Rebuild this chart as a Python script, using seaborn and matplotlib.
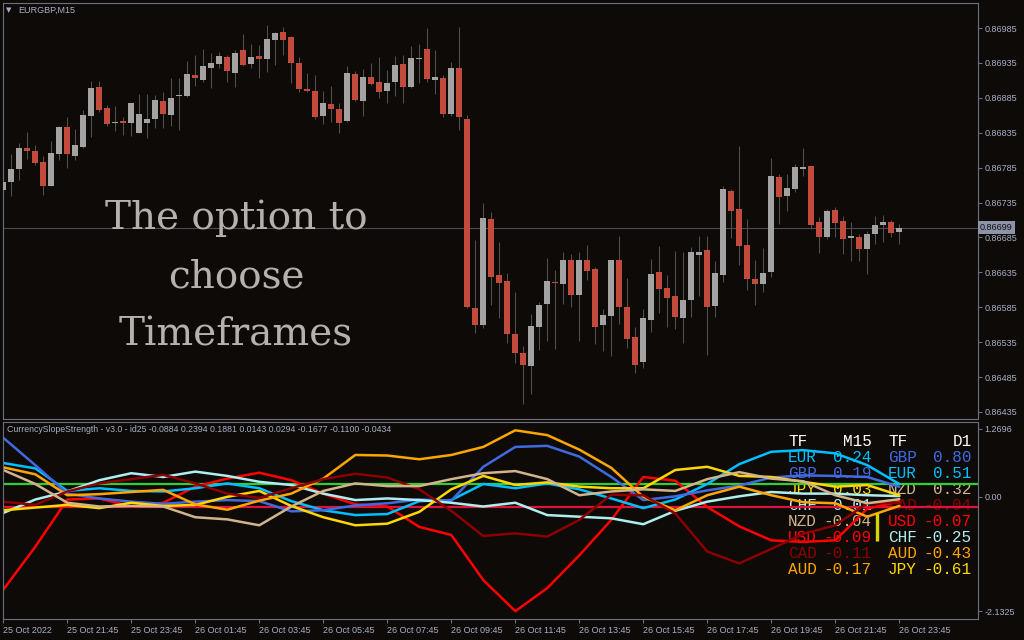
import numpy as np
import pandas as pd
import matplotlib.pyplot as plt
import seaborn as sns
from matplotlib import transforms

# ---- price data (EURGBP M15), one value per bar ----
opens = [0.86753, 0.86764, 0.86783, 0.86813, 0.86809, 0.86793, 0.86758, 0.86805, 0.86843, 0.86802,
         0.86815, 0.86859, 0.86900, 0.86870, 0.86849, 0.86852, 0.86849, 0.86835, 0.86849, 0.86855,
         0.86880, 0.86861, 0.86887, 0.86887, 0.86918, 0.86911, 0.86928, 0.86934, 0.86944, 0.86921,
         0.86954, 0.86934, 0.86945, 0.86941, 0.86968, 0.86979, 0.86972, 0.86935, 0.86898, 0.86895,
         0.86859, 0.86876, 0.86869, 0.86852, 0.86919, 0.86881, 0.86915, 0.86908, 0.86895, 0.86907,
         0.86934, 0.86901, 0.86941, 0.86955, 0.86911, 0.86913, 0.86862, 0.86928, 0.86855, 0.86584,
         0.86559, 0.86712, 0.86631, 0.86623, 0.86547, 0.86519, 0.86501, 0.86557, 0.86589, 0.86621,
         0.86619, 0.86653, 0.86602, 0.86652, 0.86640, 0.86559, 0.86572, 0.86653, 0.86586, 0.86542,
         0.86506, 0.86567, 0.86636, 0.86613, 0.86601, 0.86570, 0.86596, 0.86660, 0.86667, 0.86587,
         0.86631, 0.86752, 0.86726, 0.86674, 0.86626, 0.86618, 0.86636, 0.86772, 0.86744, 0.86755,
         0.86783, 0.86787, 0.86707, 0.86686, 0.86724, 0.86709, 0.86684, 0.86686, 0.86668, 0.86690,
         0.86703, 0.86707, 0.86693]
highs = [0.86775, 0.86805, 0.86820, 0.86836, 0.86818, 0.86801, 0.86823, 0.86845, 0.86858, 0.86840,
         0.86868, 0.86909, 0.86909, 0.86875, 0.86873, 0.86858, 0.86878, 0.86891, 0.86891, 0.86889,
         0.86894, 0.86914, 0.86913, 0.86938, 0.86946, 0.86955, 0.86949, 0.86950, 0.86946, 0.86954,
         0.86976, 0.86962, 0.86961, 0.86989, 0.86979, 0.86987, 0.86974, 0.86944, 0.86921, 0.86918,
         0.86895, 0.86902, 0.86877, 0.86931, 0.86923, 0.86926, 0.86935, 0.86943, 0.86925, 0.86945,
         0.86946, 0.86959, 0.86962, 0.86985, 0.86954, 0.86917, 0.86937, 0.86987, 0.86860, 0.86681,
         0.86734, 0.86721, 0.86678, 0.86634, 0.86607, 0.86529, 0.86576, 0.86593, 0.86655, 0.86638,
         0.86664, 0.86661, 0.86664, 0.86674, 0.86642, 0.86583, 0.86653, 0.86687, 0.86627, 0.86557,
         0.86583, 0.86654, 0.86673, 0.86631, 0.86666, 0.86664, 0.86671, 0.86687, 0.86687, 0.86651,
         0.86759, 0.86755, 0.86816, 0.86712, 0.86653, 0.86670, 0.86799, 0.86776, 0.86776, 0.86790,
         0.86813, 0.86787, 0.86714, 0.86726, 0.86729, 0.86716, 0.86707, 0.86690, 0.86694, 0.86716,
         0.86717, 0.86710, 0.86704]
lows = [0.86744, 0.86744, 0.86767, 0.86798, 0.86789, 0.86746, 0.86758, 0.86796, 0.86785, 0.86796,
        0.86813, 0.86829, 0.86865, 0.86845, 0.86837, 0.86832, 0.86831, 0.86834, 0.86827, 0.86842,
        0.86842, 0.86844, 0.86839, 0.86886, 0.86902, 0.86907, 0.86899, 0.86927, 0.86908, 0.86900,
        0.86931, 0.86927, 0.86914, 0.86922, 0.86932, 0.86947, 0.86906, 0.86894, 0.86894, 0.86855,
        0.86847, 0.86851, 0.86835, 0.86850, 0.86880, 0.86859, 0.86903, 0.86885, 0.86877, 0.86888,
        0.86877, 0.86899, 0.86906, 0.86907, 0.86891, 0.86857, 0.86859, 0.86839, 0.86584, 0.86548,
        0.86556, 0.86588, 0.86569, 0.86534, 0.86505, 0.86447, 0.86461, 0.86524, 0.86537, 0.86525,
        0.86589, 0.86586, 0.86537, 0.86624, 0.86532, 0.86522, 0.86515, 0.86561, 0.86526, 0.86491,
        0.86498, 0.86550, 0.86577, 0.86557, 0.86554, 0.86534, 0.86571, 0.86601, 0.86517, 0.86571,
        0.86621, 0.86684, 0.86646, 0.86610, 0.86588, 0.86607, 0.86628, 0.86704, 0.86723, 0.86750,
        0.86773, 0.86697, 0.86663, 0.86683, 0.86686, 0.86661, 0.86651, 0.86651, 0.86633, 0.86676,
        0.86678, 0.86686, 0.86676]
closes = [0.86764, 0.86783, 0.86813, 0.86809, 0.86792, 0.86759, 0.86806, 0.86843, 0.86805, 0.86817,
          0.86860, 0.86899, 0.86868, 0.86848, 0.86850, 0.86849, 0.86878, 0.86862, 0.86855, 0.86882,
          0.86862, 0.86885, 0.86888, 0.86919, 0.86914, 0.86931, 0.86935, 0.86945, 0.86923, 0.86949,
          0.86932, 0.86944, 0.86941, 0.86969, 0.86978, 0.86968, 0.86935, 0.86897, 0.86895, 0.86857,
          0.86878, 0.86869, 0.86849, 0.86921, 0.86882, 0.86915, 0.86905, 0.86894, 0.86906, 0.86932,
          0.86900, 0.86942, 0.86942, 0.86912, 0.86915, 0.86862, 0.86928, 0.86857, 0.86585, 0.86560,
          0.86713, 0.86629, 0.86620, 0.86547, 0.86520, 0.86503, 0.86558, 0.86588, 0.86623, 0.86620,
          0.86652, 0.86603, 0.86653, 0.86637, 0.86557, 0.86574, 0.86653, 0.86586, 0.86540, 0.86503,
          0.86570, 0.86633, 0.86611, 0.86598, 0.86571, 0.86596, 0.86664, 0.86664, 0.86586, 0.86634,
          0.86755, 0.86723, 0.86673, 0.86626, 0.86618, 0.86634, 0.86773, 0.86743, 0.86756, 0.86786,
          0.86786, 0.86703, 0.86686, 0.86723, 0.86706, 0.86683, 0.86687, 0.86668, 0.86690, 0.86703,
          0.86707, 0.86691, 0.86699]
start_time = "2022-10-25 19:45"
price_ticks = [0.86435, 0.86485, 0.86535, 0.86585, 0.86635, 0.86685,
               0.86735, 0.86785, 0.86835, 0.86885, 0.86935, 0.86985]

# ---- CurrencySlopeStrength, read every 4th bar ----
sample_bars = list(range(0, 113, 4))
usd = [-1.73, -0.93, -0.05, -0.03, -0.18, -0.11, 0.19, 0.34, 0.45, 0.31, 0.06, -0.14, -0.18, -0.56, -0.71,
       -1.55, -2.13, -1.70, -1.09, -0.43, 0.37, 0.30, -0.19, -0.55, -0.81, -0.84, -0.81, -0.22, -0.0884]
eur = [0.63, 0.53, 0.11, 0.16, 0.11, 0.10, 0.16, 0.25, 0.16, -0.08, -0.25, -0.34, -0.32, -0.08, -0.06,
       0.24, 0.16, 0.25, 0.14, -0.03, -0.21, -0.05, 0.24, 0.61, 0.84, 0.87, 0.81, 0.59, 0.2394]
gbp = [1.10, 0.59, 0.06, -0.03, -0.09, -0.13, -0.09, -0.06, -0.08, -0.27, -0.25, -0.16, -0.12, -0.05, -0.07,
       0.56, 0.93, 0.95, 0.75, 0.37, -0.06, 0.01, 0.12, 0.21, 0.36, 0.40, 0.39, 0.37, 0.1881]
chf = [-0.30, -0.05, 0.10, 0.31, 0.44, 0.37, 0.47, 0.39, 0.28, 0.22, 0.06, -0.06, -0.03, -0.06, -0.11,
       -0.18, -0.11, -0.34, -0.37, -0.40, -0.51, -0.26, -0.09, 0.01, 0.09, 0.06, 0.06, 0.03, 0.0143]
jpy = [-0.25, -0.20, -0.15, -0.21, -0.11, -0.17, -0.15, 0.00, 0.11, -0.17, -0.38, -0.53, -0.50, -0.28, 0.14,
       0.39, 0.22, 0.27, 0.19, 0.16, 0.16, 0.50, 0.56, 0.39, 0.37, 0.28, 0.19, 0.22, 0.0294]
aud = [0.55, 0.42, 0.03, 0.05, 0.09, 0.13, -0.14, -0.24, -0.07, 0.06, 0.34, 0.78, 0.77, 0.70, 0.78,
       0.93, 1.24, 1.15, 0.88, 0.54, 0.00, -0.25, 0.03, 0.19, 0.03, -0.10, -0.12, -0.37, -0.1677]
cad = [-0.09, -0.15, 0.10, 0.25, 0.33, 0.41, 0.25, 0.06, -0.02, 0.16, 0.33, 0.43, 0.36, 0.14, -0.26,
       -0.73, -0.68, -0.74, -0.43, 0.04, 0.03, -0.31, -1.02, -1.24, -0.97, -0.69, -0.53, -0.12, -0.1100]
nzd = [0.50, 0.24, -0.11, -0.18, -0.17, -0.18, -0.38, -0.42, -0.53, -0.18, 0.11, 0.25, 0.20, 0.20, 0.33,
       0.44, 0.48, 0.33, 0.03, 0.10, 0.14, 0.11, 0.33, 0.46, 0.34, 0.29, 0.03, -0.12, -0.0434]
currencies = ["USD", "EUR", "GBP", "CHF", "JPY", "AUD", "CAD", "NZD"]
line_colors = {"USD": "#ff0000", "EUR": "#00bfff", "GBP": "#4169e1", "CHF": "#afeeee",
               "JPY": "#ffd700", "AUD": "#ffa500", "CAD": "#8b0000", "NZD": "#d2b48c"}
levels = [0.23, -0.19]
level_colors = ["#32cd32", "#dc143c"]
ind_ticks = [-2.1325, 0.0, 1.2696]
ind_ticklabels = ["-2.1325", "0.00", "1.2696"]
signal_bar, signal_lo, signal_hi = 109.2, -0.82, -0.30

# D1 ranking shown in the right-hand table
d1_names = ["GBP", "EUR", "NZD", "CAD", "USD", "CHF", "AUD", "JPY"]
d1_values = [0.80, 0.51, 0.32, -0.04, -0.07, -0.25, -0.43, -0.61]

BG = "#0d0a08"
AXIS = "#6b7080"
LABEL = "#a9b0c6"
BULL = "#a3a3a3"
BEAR = "#c24b3b"
W, H = 1024, 640

sns.set_theme(style="ticks")
plt.rcParams["font.family"] = ["Liberation Sans", "DejaVu Sans"]

fig = plt.figure(figsize=(W / 100, H / 100), dpi=100, facecolor=BG)


def fpos(x, y):
    return x / W, 1 - y / H


ax_main = fig.add_axes([2.7 / W, 1 - 418.5 / H, (978 - 2.7) / W, (418.5 - 2.7) / H])
ax_ind = fig.add_axes([2.7 / W, 1 - 619 / H, (978 - 2.7) / W, (619 - 422) / H])

for ax in (ax_main, ax_ind):
    ax.set_facecolor(BG)
    ax.grid(False)
    for sp in ax.spines.values():
        sp.set_color(AXIS)
        sp.set_linewidth(0.8)
    ax.yaxis.tick_right()
    ax.tick_params(axis="y", right=True, left=False, labelright=True, labelleft=False,
                   colors=AXIS, labelcolor=LABEL, length=3, width=0.8, labelsize=6.5, pad=1.5)
    ax.set_xlim(-0.075, 121.84)

# ---- candles ----
bars = np.arange(len(closes))
o = np.array(opens)
c = np.array(closes)
up = c >= o
body_bottom = np.minimum(o, c)
body_h = np.maximum(np.abs(c - o), 0.000015)
ax_main.vlines(bars, lows, highs, color="#4f4f4f", lw=0.75, zorder=2)
ax_main.bar(bars, body_h, bottom=body_bottom, width=0.8,
            color=np.where(up, BULL, BEAR), linewidth=0, zorder=3)
ax_main.axhline(closes[-1], color="#4a4b57", lw=0.8, zorder=1)
ax_main.set_ylim(0.8642569, 0.8702124)
ax_main.set_yticks(price_ticks)
ax_main.set_yticklabels([f"{p:.5f}" for p in price_ticks])
ax_main.set_xticks([])
ax_main.text(1.002, closes[-1], f"{closes[-1]:.5f}",
             transform=transforms.blended_transform_factory(ax_main.transAxes, ax_main.transData),
             ha="left", va="center", fontsize=6.5, color="#0c0c18", zorder=6, clip_on=False,
             bbox=dict(boxstyle="square,pad=0.25", fc="#8d94a7", ec="none"))

fig.text(*fpos(6, 10), "\u25bc", fontsize=5, color=LABEL, va="center",
         family=["DejaVu Sans"])
fig.text(*fpos(18, 10), "EURGBP,M15", fontsize=6.5, color=LABEL, va="center")

for line, y in zip(["The option to", "choose", "Timeframes"], [229, 287.5, 346]):
    fig.text(*fpos(236, y), line, ha="center", va="baseline", fontsize=28,
             family=["DejaVu Serif"], color="#b5b1ae")

# ---- indicator window ----
series = {"USD": usd, "EUR": eur, "GBP": gbp, "CHF": chf,
          "JPY": jpy, "AUD": aud, "CAD": cad, "NZD": nzd}
ind_df = pd.concat([pd.DataFrame({"bar": sample_bars, "value": v, "currency": k})
                    for k, v in series.items()], ignore_index=True)

for lv, lc in zip(levels, level_colors):
    ax_ind.axhline(lv, color=lc, lw=1.6, zorder=1.5)

sns.lineplot(data=ind_df, x="bar", y="value", hue="currency", hue_order=currencies,
             palette=line_colors, linewidth=1.8, legend=False, ax=ax_ind, zorder=2)
ax_ind.vlines(signal_bar, signal_lo, signal_hi, color="#d8d400", lw=2.4, zorder=4)

ax_ind.set_ylim(-2.276, 1.3944)
ax_ind.set_yticks(ind_ticks)
ax_ind.set_yticklabels(ind_ticklabels)
ax_ind.set_xlabel("")
ax_ind.set_ylabel("")

times = pd.date_range(start_time, periods=len(closes), freq="15min")
tick_bars = bars[::8]
tick_labels = [t.strftime("%d %b %H:%M") for t in times[::8]]
tick_labels[0] = times[0].strftime("%d %b %Y")
ax_ind.set_xticks(tick_bars)
ax_ind.set_xticklabels(tick_labels)
ax_ind.tick_params(axis="x", bottom=True, colors=AXIS, labelcolor=LABEL,
                   length=3, width=0.8, labelsize=6.5, pad=2)
for lbl in ax_ind.get_xticklabels():
    lbl.set_ha("left")

last_vals = {k: v[-1] for k, v in series.items()}
header = "CurrencySlopeStrength - v3.0 - id25 " + " ".join(f"{last_vals[k]:.4f}" for k in currencies)
fig.text(*fpos(7, 430), header, fontsize=6.3, color=LABEL, va="center")

# ranking table (drawn under the lines)
m15_rank = sorted(currencies, key=lambda k: -last_vals[k])
mono = ["Liberation Mono", "DejaVu Sans Mono"]
tkw = dict(transform=fig.transFigure, fontsize=11.5, family=mono, va="baseline", zorder=1)
base0, step = 445.5, 16.1
ax_ind.text(*fpos(788, base0), "TF", color="white", ha="left", **tkw)
ax_ind.text(*fpos(872, base0), "M15", color="white", ha="right", **tkw)
ax_ind.text(*fpos(888, base0), "TF", color="white", ha="left", **tkw)
ax_ind.text(*fpos(972, base0), "D1", color="white", ha="right", **tkw)
for k, (name1, name2, v2) in enumerate(zip(m15_rank, d1_names, d1_values), start=1):
    yb = base0 + step * k
    ax_ind.text(*fpos(788, yb), name1, color=line_colors[name1], ha="left", **tkw)
    ax_ind.text(*fpos(872, yb), f"{last_vals[name1]:.2f}", color=line_colors[name1], ha="right", **tkw)
    ax_ind.text(*fpos(888, yb), name2, color=line_colors[name2], ha="left", **tkw)
    ax_ind.text(*fpos(972, yb), f"{v2:.2f}", color=line_colors[name2], ha="right", **tkw)

fig.savefig("out.png", dpi=100, facecolor=BG)
